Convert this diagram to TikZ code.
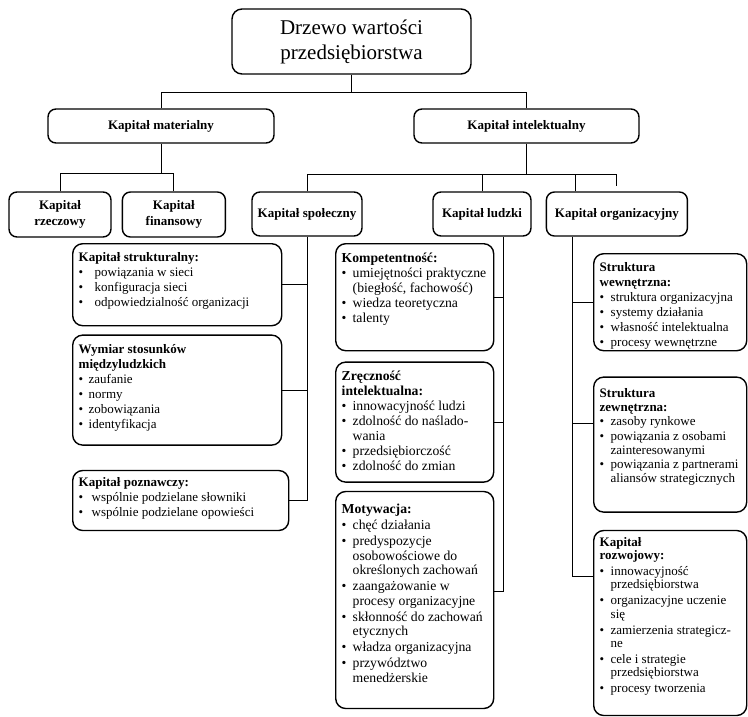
\documentclass[tikz,border=0pt]{standalone}
\usepackage{fontspec}
\setmainfont{Liberation Serif}
\usetikzlibrary{positioning}
% bullet line with hanging indent
\newcommand{\pkt}[2][11pt]{\par\hangindent=#1\hangafter=1\noindent\makebox[#1][l]{\textbullet}#2}
\newcommand{\opis}[4][5pt]{\parbox[c][#3][t]{#2}{\raggedright\hyphenpenalty=10000 \vspace*{#1}#4}}
\tikzset{
  rootbox/.style={
    rectangle, rounded corners=10pt, draw, line width=1.4pt, align=center,
    minimum width=239pt, minimum height=65pt, inner sep=0pt,
    font=\fontsize{21}{25}\selectfont},
  capbox/.style={
    rectangle, rounded corners=8pt, draw, line width=1.4pt, align=center,
    minimum height=34pt, inner sep=0pt, font=\fontsize{13}{16}\selectfont\bfseries},
  subbox/.style={capbox, minimum height=44pt},
  detbox/.style={
    rectangle, rounded corners=10pt, draw, line width=1.4pt,
    inner xsep=6pt, inner ysep=4pt, anchor=north west,
    font=\fontsize{13}{15}\selectfont},
  midbox/.style={detbox, font=\fontsize{13.7}{15}\selectfont},
  branchline/.style={line width=0.9pt}
}
\begin{document}
\begin{tikzpicture}[x=1pt,y=-1pt,node distance=8pt]
  \useasboundingbox (0,0) rectangle (748,716);

  \node[rootbox] (root) at (351.5,41.5) {Drzewo wartości\\przedsiębiorstwa};

  \node[capbox, minimum width=226pt] (mat) at (161,126) {Kapitał materialny};
  \node[capbox, minimum width=225pt] (intel) at (526.5,126) {Kapitał intelektualny};

  \node[subbox, minimum width=102pt, minimum height=45pt] (rzecz) at (60,214.5) {Kapitał\\rzeczowy};
  \node[subbox, minimum width=103pt, minimum height=45pt, right=10pt of rzecz] (finans) {Kapitał\\finansowy};
  \node[subbox, minimum width=110pt] (spol) at (307,214) {Kapitał społeczny};
  \node[subbox, minimum width=98pt] (ludz) at (482,214) {Kapitał ludzki};
  \node[subbox, minimum width=141pt, right=14pt of ludz] (org) {Kapitał organizacyjny};

  % kapital spoleczny
  \node[detbox] (strukt) at (72,243) {\opis{197pt}{74pt}{%
    \textbf{Kapitał strukturalny:}
    \pkt[16pt]{powiązania w sieci}
    \pkt[16pt]{konfiguracja sieci}
    \pkt[16pt]{odpowiedzialność organizacji}}};
  \node[detbox, below=8pt of strukt.south west, anchor=north west] (wymiar) {\opis{197pt}{102pt}{%
    \textbf{Wymiar stosunków\newline międzyludzkich}
    \pkt[10pt]{zaufanie}
    \pkt[10pt]{normy}
    \pkt[10pt]{zobowiązania}
    \pkt[10pt]{identyfikacja}}};
  \node[detbox, below=24pt of wymiar.south west, anchor=north west] (poznaw) {\opis[3pt]{204pt}{52pt}{%
    \textbf{Kapitał poznawczy:}
    \pkt[13pt]{wspólnie podzielane słowniki}
    \pkt[13pt]{wspólnie podzielane opowieści}}};

  % kapital ludzki
  \node[midbox] (kompet) at (335,243) {\opis{146pt}{99pt}{%
    \textbf{Kompetentność:}
    \pkt{umiejętności praktyczne\newline (biegłość, fachowość)}
    \pkt{wiedza teoretyczna}
    \pkt{talenty}}};
  \node[midbox, below=10pt of kompet.south west, anchor=north west] (zrecz) {\opis{146pt}{112pt}{%
    \textbf{Zręczność\newline intelektualna:}
    \pkt{innowacyjność ludzi}
    \pkt{zdolność do naślado-\newline wania}
    \pkt{przedsiębiorczość}
    \pkt{zdolność do zmian}}};
  \node[midbox, below=8pt of zrecz.south west, anchor=north west] (motyw) {\opis[7pt]{146pt}{209pt}{%
    \fontsize{13.7}{14.5}\selectfont\setlength{\parskip}{1.5pt}%
    \textbf{Motywacja:}
    \pkt{chęć działania}
    \pkt{predyspozycje\newline osobowościowe do\newline określonych zachowań}
    \pkt{zaangażowanie w\newline procesy organizacyjne}
    \pkt{skłonność do zachowań\newline etycznych}
    \pkt{władza organizacyjna}
    \pkt{przywództwo\newline menedżerskie}}};

  % kapital organizacyjny
  \node[detbox] (wewn) at (593,253) {\opis{141pt}{89pt}{%
    \textbf{Struktura\newline wewnętrzna:}
    \pkt{struktura organizacyjna}
    \pkt{systemy działania}
    \pkt{własność intelektualna}
    \pkt{procesy wewnętrzne}}};
  \node[detbox, below=25pt of wewn.south west, anchor=north west] (zewn) {\opis[7pt]{141pt}{127pt}{%
    \fontsize{13}{14.3}\selectfont
    \textbf{Struktura\newline zewnętrzna:}
    \pkt{zasoby rynkowe}
    \pkt{powiązania z osobami\newline zainteresowanymi}
    \pkt{powiązania z partnerami\newline aliansów strategicznych}}};
  \node[detbox, below=17pt of zewn.south west, anchor=north west] (rozw) {\opis[0pt]{141pt}{177pt}{%
    \fontsize{13}{13.3}\selectfont\setlength{\parskip}{2.7pt}%
    \textbf{Kapitał\newline rozwojowy:}
    \pkt{innowacyjność\newline przedsiębiorstwa}
    \pkt{organizacyjne uczenie\newline się}
    \pkt{zamierzenia strategicz-\newline ne}
    \pkt{cele i strategie\newline przedsiębiorstwa}
    \pkt{procesy tworzenia}}};

  % upper tree
  \draw[branchline] (root.south) -- ++(0,18) coordinate (rj);
  \draw[branchline] (mat.north) |- (rj) -| (intel.north);
  \draw[branchline] (mat.south) -- ++(0,30) coordinate (mj);
  \draw[branchline] (rzecz.north) |- (mj) -| (finans.north);
  \draw[branchline] (intel.south) -- ++(0,31) coordinate (ij);
  \draw[branchline] (spol.north) |- (ij);
  \draw[branchline] (ludz.north) -- (ludz.north |- ij);
  \coordinate (orgtop) at ([xshift=30pt]org.north west);
  \coordinate (stub) at ([yshift=5pt]org.north);
  \draw[branchline] (orgtop) |- (ij);
  \draw[branchline] (ij) -| (stub);

  % spoleczny
  \draw[branchline] (spol.south) |- (poznaw.east);
  \draw[branchline] (strukt.east) -- (strukt.east -| spol.south);
  \draw[branchline] (wymiar.east) -- (wymiar.east -| spol.south);

  % ludzki
  \coordinate (lj) at ([xshift=21pt]ludz.south);
  \coordinate (motin) at ([yshift=9pt]motyw.east);
  \draw[branchline] (lj) |- (motin);
  \draw[branchline] (kompet.east) -- (kompet.east -| lj);
  \draw[branchline] (zrecz.east) -- (zrecz.east -| lj);

  % organizacyjny
  \coordinate (oj) at ([xshift=27pt]org.south west);
  \coordinate (zewnin) at ([yshift=-47pt]zewn.north west);
  \coordinate (rozwin) at ([yshift=-47pt]rozw.north west);
  \draw[branchline] (oj) |- (rozwin);
  \draw[branchline] (wewn.west) -- (wewn.west -| oj);
  \draw[branchline] (zewnin) -- (zewnin -| oj);
\end{tikzpicture}
\end{document}
